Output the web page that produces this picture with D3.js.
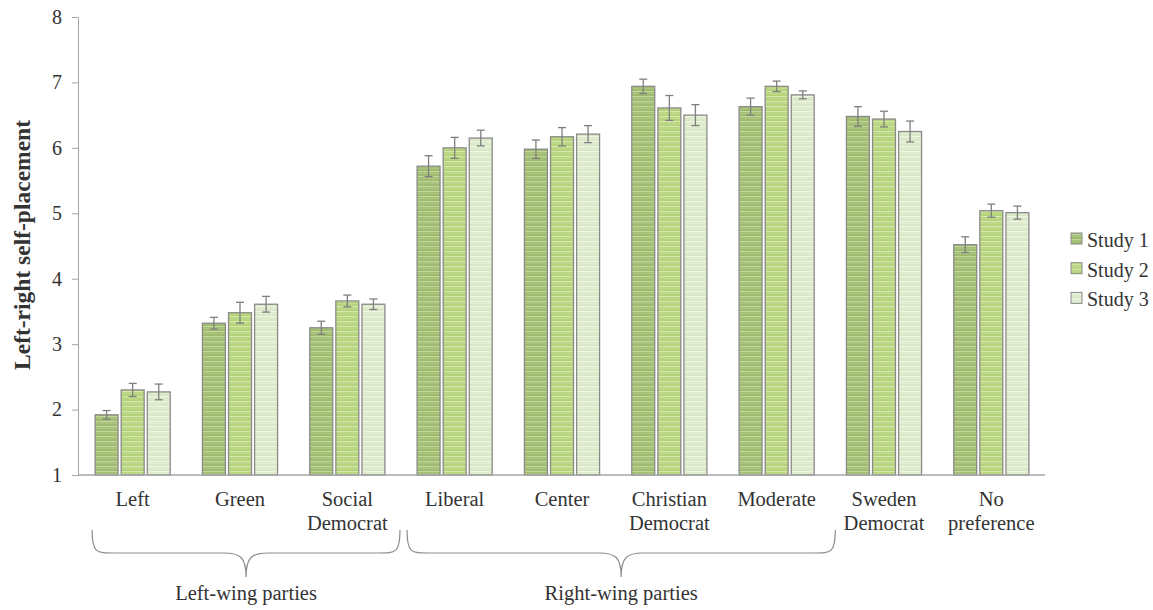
<!DOCTYPE html>
<html>
<head>
<meta charset="utf-8">
<script src="https://cdn.jsdelivr.net/npm/d3@7"></script>
<style>
  body { margin: 0; background: #fff; }
  svg { display: block; }
</style>
</head>
<body>
<svg id="chart" width="1153" height="610"></svg>
<script>
// Party categories (x-axis), two-line labels
const categories = ["Left", "Green", "Social Democrat", "Liberal", "Center",
  "Christian Democrat", "Moderate", "Sweden Democrat", "No preference"];
const categoryLines = [["Left"], ["Green"], ["Social", "Democrat"], ["Liberal"], ["Center"],
  ["Christian", "Democrat"], ["Moderate"], ["Sweden", "Democrat"], ["No", "preference"]];

const seriesNames = ["Study 1", "Study 2", "Study 3"];

// Mean left-right self-placement per party, per study
const study1 = [1.92, 3.32, 3.25, 5.72, 5.98, 6.94, 6.63, 6.48, 4.52];
const study2 = [2.30, 3.48, 3.66, 6.00, 6.17, 6.61, 6.94, 6.44, 5.04];
const study3 = [2.27, 3.61, 3.61, 6.15, 6.21, 6.50, 6.81, 6.25, 5.01];

// Error-bar half-widths
const err1 = [0.065, 0.09, 0.10, 0.16, 0.14, 0.11, 0.13, 0.15, 0.12];
const err2 = [0.10, 0.16, 0.09, 0.16, 0.14, 0.19, 0.08, 0.12, 0.10];
const err3 = [0.12, 0.12, 0.08, 0.12, 0.13, 0.16, 0.06, 0.16, 0.10];

const yTicks = [1, 2, 3, 4, 5, 6, 7, 8];

// Party groupings shown with braces under the axis (index of first and last band)
const groupLabels = ["Left-wing parties", "Right-wing parties"];
const groupFirst = [0, 3];
const groupLast = [2, 6];

const series = [
  { name: seriesNames[0], values: study1, errs: err1 },
  { name: seriesNames[1], values: study2, errs: err2 },
  { name: seriesNames[2], values: study3, errs: err3 }
];

const FONT = '"Liberation Serif", Tinos, "Times New Roman", serif';

// Striped fills
const fills = [
  { base: "#9db96c", stripe: "#c3d89f", id: "pat1" },
  { base: "#b3d278", stripe: "#d6e8ad", id: "pat2" },
  { base: "#d9e7c4", stripe: "#f0f6e6", id: "pat3" }
];

const svg = d3.select("#chart");
const defs = svg.append("defs");
fills.forEach(f => {
  const p = defs.append("pattern")
    .attr("id", f.id).attr("patternUnits", "userSpaceOnUse")
    .attr("width", 8).attr("height", 5);
  p.append("rect").attr("width", 8).attr("height", 5).attr("fill", f.base);
  p.append("rect").attr("y", 1).attr("width", 8).attr("height", 1.2).attr("fill", f.stripe);
  p.append("rect").attr("y", 3.4).attr("width", 8).attr("height", 0.8).attr("fill", f.stripe).attr("opacity", 0.6);
});

const x0 = d3.scaleBand().domain(categories).range([79, 1045]).paddingInner(0.3).paddingOuter(0.15);
const x1 = d3.scaleBand().domain(seriesNames).range([0, x0.bandwidth()]).paddingInner(0.12);
const y = d3.scaleLinear().domain([1, 8]).range([475, 17]);

const axisColor = "#a6a6a6";
const textColor = "#333";

// Y axis
const yAxis = svg.append("g").attr("transform", "translate(78,0)")
  .call(d3.axisLeft(y).tickValues(yTicks).tickSize(6).tickPadding(10).tickFormat(d3.format("d")));
yAxis.select(".domain").attr("stroke", axisColor);
yAxis.selectAll(".tick line").attr("stroke", axisColor);
yAxis.selectAll(".tick text").attr("fill", textColor)
  .style("font-family", FONT).style("font-size", "20px");

// Bars
const groups = svg.append("g").selectAll("g").data(series).join("g");
groups.each(function (s, si) {
  const g = d3.select(this);
  g.selectAll("rect").data(s.values).join("rect")
    .attr("x", (d, i) => x0(categories[i]) + x1(s.name))
    .attr("y", d => y(d))
    .attr("width", x1.bandwidth())
    .attr("height", d => y(1) - y(d))
    .attr("fill", `url(#${fills[si].id})`)
    .attr("stroke", "#8a8a8a").attr("stroke-width", 1.3);
});

// X axis line
svg.append("line").attr("x1", 78).attr("x2", 1045).attr("y1", y(1)).attr("y2", y(1))
  .attr("stroke", axisColor).attr("stroke-width", 1.5);

// Error bars
const capW = 4;
series.forEach(s => {
  const g = svg.append("g").attr("stroke", "#7f7f7f").attr("stroke-width", 1.3);
  s.values.forEach((v, i) => {
    const cx = x0(categories[i]) + x1(s.name) + x1.bandwidth() / 2;
    const top = y(v + s.errs[i]), bot = y(v - s.errs[i]);
    g.append("line").attr("x1", cx).attr("x2", cx).attr("y1", top).attr("y2", bot);
    g.append("line").attr("x1", cx - capW).attr("x2", cx + capW).attr("y1", top).attr("y2", top);
    g.append("line").attr("x1", cx - capW).attr("x2", cx + capW).attr("y1", bot).attr("y2", bot);
  });
});

// Category labels
const lab = svg.append("g");
categoryLines.forEach((lines, i) => {
  const cx = x0(categories[i]) + x0.bandwidth() / 2;
  const t = lab.append("text").attr("x", cx).attr("y", 506).attr("text-anchor", "middle")
    .attr("fill", textColor).style("font-family", FONT).style("font-size", "20.5px");
  lines.forEach((l, j) => t.append("tspan").attr("x", cx).attr("dy", j === 0 ? 0 : 24).text(l));
});

// Y axis title
svg.append("text")
  .attr("transform", "translate(30,245) rotate(-90)")
  .attr("text-anchor", "middle").attr("fill", textColor)
  .style("font-family", FONT).style("font-size", "23.5px").style("font-weight", "bold")
  .text("Left-right self-placement");

// Braces
function brace(xa, xb, xm, yTop, yMid, yTip, r) {
  return `M${xa},${yTop}` +
    ` C${xa},${yMid} ${xa + 4},${yMid} ${xa + r},${yMid}` +
    ` L${xm - r},${yMid}` +
    ` C${xm - 6},${yMid} ${xm},${yMid + 4} ${xm},${yTip}` +
    ` C${xm},${yMid + 4} ${xm + 6},${yMid} ${xm + r},${yMid}` +
    ` L${xb - r},${yMid}` +
    ` C${xb - 4},${yMid} ${xb},${yMid} ${xb},${yTop}`;
}
const step = x0.step();
const boundary = k => x0.range()[0] + k * step;
const bg = svg.append("g");
groupLabels.forEach((name, gi) => {
  const xa = gi === 0 ? x0(categories[groupFirst[gi]]) - 3 : boundary(groupFirst[gi]) + 6;
  const xb = gi === 0 ? boundary(groupLast[gi] + 1) - 1 : boundary(groupLast[gi] + 1) + 5;
  const xm = (xa + xb) / 2;
  bg.append("path").attr("d", brace(xa, xb, xm, 530, 553, 577, 22))
    .attr("fill", "none").attr("stroke", "#8c8c8c").attr("stroke-width", 1.2);
  bg.append("text").attr("x", xm).attr("y", 600).attr("text-anchor", "middle")
    .attr("fill", textColor).style("font-family", FONT).style("font-size", "20.5px").text(name);
});

// Legend
const leg = svg.append("g").attr("transform", "translate(1071,233)");
series.forEach((s, i) => {
  const row = leg.append("g").attr("transform", `translate(0,${i * 29.7})`);
  row.append("rect").attr("x", 0).attr("y", 0).attr("width", 11).attr("height", 11)
    .attr("fill", `url(#${fills[i].id})`).attr("stroke", "#8a8a8a").attr("stroke-width", 1);
  row.append("text").attr("x", 16).attr("y", 14).attr("fill", textColor)
    .style("font-family", FONT).style("font-size", "20px").text(s.name);
});
</script>
</body>
</html>
